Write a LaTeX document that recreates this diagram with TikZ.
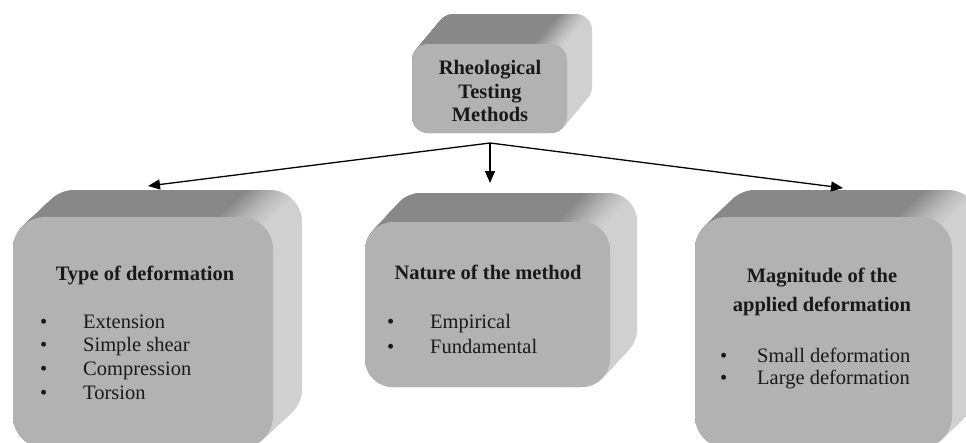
\documentclass[tikz,border=0pt]{standalone}
\usepackage{fontspec}
\setmainfont{Liberation Serif}
\usetikzlibrary{arrows.meta}
\definecolor{facegray}{RGB}{178,178,178}
\definecolor{topgray}{RGB}{136,136,136}
\definecolor{sidegray}{RGB}{208,208,208}
\pgfdeclarehorizontalshading{extshade}{100bp}{color(0bp)=(topgray); color(25bp)=(topgray); color(64bp)=(topgray); color(73bp)=(sidegray); color(100bp)=(sidegray)}
% #1 left, #2 top, #3 right, #4 bottom, #5 dx, #6 dy, #7 radius
\newcommand{\extrudebox}[7]{%
  \foreach \i in {0,...,40}{%
    \pgfmathsetmacro{\tt}{1-\i/40}%
    \path[shade, shading=extshade, rounded corners=#7pt]
      ({#1+\tt*#5},{#2+\tt*#6}) rectangle ({#3+\tt*#5},{#4+\tt*#6});
  }%
}
\tikzset{
  face/.style={fill=facegray, draw=none, inner sep=0pt, outer sep=0pt},
  head/.style={font=\fontsize{20.5}{23.5}\selectfont\bfseries, inner sep=0pt, text=black!90},
  item/.style={font=\fontsize{20.5}{23.5}\selectfont, inner sep=0pt, anchor=base west, text=black!90},
  arr/.style={-{Triangle[length=12pt,width=10pt]}, line width=1.3pt, black},
}
\begin{document}
\begin{tikzpicture}[x=1pt,y=-1pt]
\useasboundingbox (0,0) rectangle (966,442);
\clip (0,0) rectangle (966,442);
% top box
\extrudebox{412}{44}{567}{133}{25}{-30}{16}
\node[face, rounded corners=16pt, minimum width=155pt, minimum height=89pt] (topface) at (489.5,88.5) {};
\node[head, align=center] (toptext) at (490,91) {Rheological\\Testing\\Methods};
% left box
\extrudebox{13}{217}{273}{448}{29}{-27}{32}
\node[face, rounded corners=32pt, minimum width=260pt, minimum height=231pt] (typeface) at (143,332.5) {};
\node[head, anchor=base] (typehead) at (145,280) {Type of deformation};
\node[item] (t1) at (40,328) {\makebox[43pt][l]{\textbullet}Extension};
\node[item] (t2) at (40,351.7) {\makebox[43pt][l]{\textbullet}Simple shear};
\node[item] (t3) at (40,375.4) {\makebox[43pt][l]{\textbullet}Compression};
\node[item] (t4) at (40,399.1) {\makebox[43pt][l]{\textbullet}Torsion};
% middle box
\extrudebox{365}{222}{610}{387}{27}{-29}{28}
\node[face, rounded corners=28pt, minimum width=245pt, minimum height=165pt] (natureface) at (487.5,304.5) {};
\node[head, anchor=base] (naturehead) at (488,279) {Nature of the method};
\node[item] (n1) at (387,328) {\makebox[43pt][l]{\textbullet}Empirical};
\node[item] (n2) at (387,353) {\makebox[43pt][l]{\textbullet}Fundamental};
% right box
\extrudebox{695}{217}{952}{448}{28}{-27}{32}
\node[face, rounded corners=32pt, minimum width=257pt, minimum height=231pt] (magface) at (823.5,332.5) {};
\node[head, anchor=base] (maghead1) at (822,282) {Magnitude of the};
\node[head, anchor=base] (maghead2) at (822,311) {applied deformation};
\node[item] (m1) at (720,362) {\makebox[37pt][l]{\textbullet}Small deformation};
\node[item] (m2) at (720,384) {\makebox[37pt][l]{\textbullet}Large deformation};
% connectors
\coordinate (split) at (490,143);
\coordinate (tipL) at (148,186);
\coordinate (tipM) at (490,183);
\coordinate (tipR) at (843,188);
\draw[arr] (split) -- (tipL);
\draw[arr] (split) -- (tipM);
\draw[arr] (split) -- (tipR);
\end{tikzpicture}
\end{document}
